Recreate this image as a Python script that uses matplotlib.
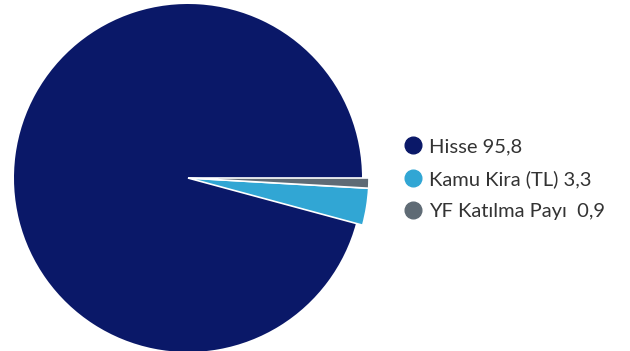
import matplotlib
matplotlib.use("Agg")
import matplotlib.pyplot as plt
from matplotlib.lines import Line2D

categories = ["Hisse", "Kamu Kira (TL)", "YF Katılma Payı "]
values = [95.8, 3.3, 0.9]
colors = ["#0a1868", "#31a6d4", "#5f6b75"]

fig = plt.figure(figsize=(6.3, 3.51), dpi=100)
ax = fig.add_axes([0, 0, 1, 1])
ax.set_xlim(0, 630)
ax.set_ylim(0, 351)
ax.set_aspect("equal")
ax.axis("off")

center = (188, 173)
radius = 174
wedges, _ = ax.pie(values, colors=colors, startangle=0, counterclock=True,
                   center=center, radius=radius,
                   wedgeprops=dict(linewidth=0))
# the small slices stick out a little beyond the main disc
for w in wedges[1:]:
    w.set_radius(radius * 1.04)
    w.set_edgecolor("white")
    w.set_linewidth(1.2)
wedges[0].set_zorder(1)
wedges[1].set_zorder(2)
wedges[2].set_zorder(3)
ax.set_xlim(0, 630)
ax.set_ylim(0, 351)

labels = [f"{c} {str(v).replace('.', ',')}" for c, v in zip(categories, values)]
handles = [Line2D([], [], marker="o", linestyle="none", markersize=12,
                  markerfacecolor=c, markeredgecolor=c) for c in colors]
ax.legend(handles, labels, loc="center left", bbox_to_anchor=(395 / 630, 1 - 179 / 351),
          frameon=False, handletextpad=0.3, labelspacing=0.72, borderaxespad=0,
          prop=dict(family="Lato", size=14.5), labelcolor="#333333",
          handlelength=1.0)

fig.savefig("out.png", dpi=100)
